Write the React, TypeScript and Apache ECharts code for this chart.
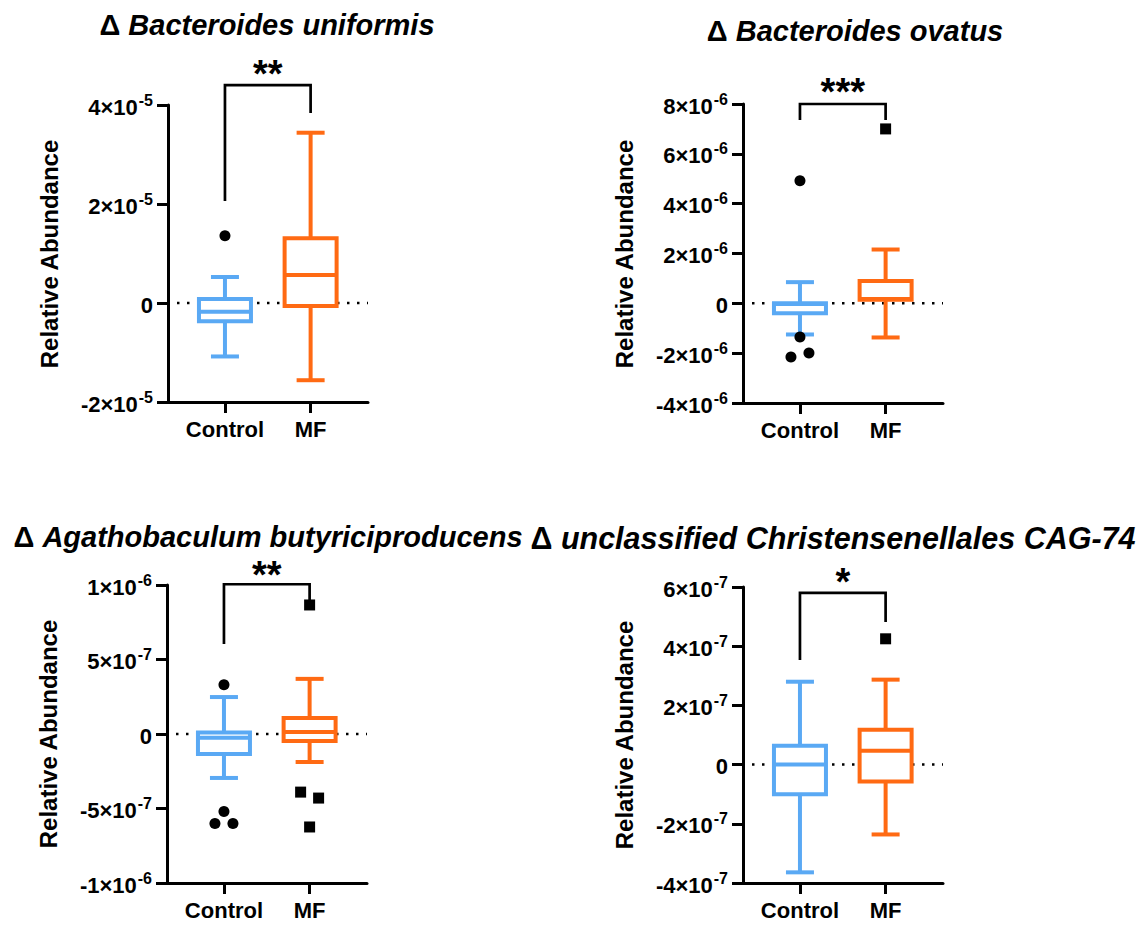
import React, { useEffect, useRef } from "react";
import * as echarts from "echarts";

const FONT = "'Liberation Sans', Arial, sans-serif";
const BLUE = "#5AA9F4";
const ORANGE = "#FF6A13";

const categories = ["Control", "MF"];
const titles = [
  "Bacteroides uniformis",
  "Bacteroides ovatus",
  "Agathobaculum butyriciproducens",
  "unclassified Christensenellales CAG-74",
];
const stars = ["**", "***", "**", "*"];

// y ticks & labels
const p1Ticks = [-2e-5, 0, 2e-5, 4e-5];
const p1Labels = ["-2×10^-5", "0", "2×10^-5", "4×10^-5"];
const p2Ticks = [-4e-6, -2e-6, 0, 2e-6, 4e-6, 6e-6, 8e-6];
const p2Labels = ["-4×10^-6", "-2×10^-6", "0", "2×10^-6", "4×10^-6", "6×10^-6", "8×10^-6"];
const p3Ticks = [-1e-6, -5e-7, 0, 5e-7, 1e-6];
const p3Labels = ["-1×10^-6", "-5×10^-7", "0", "5×10^-7", "1×10^-6"];
const p4Ticks = [-4e-7, -2e-7, 0, 2e-7, 4e-7, 6e-7];
const p4Labels = ["-4×10^-7", "-2×10^-7", "0", "2×10^-7", "4×10^-7", "6×10^-7"];

// box stats: [min, q1, median, q3, max]
const p1Control = [-1.08e-5, -3.7e-6, -1.75e-6, 0.8e-6, 5.25e-6];
const p1MF = [-1.56e-5, -0.6e-6, 5.66e-6, 1.31e-5, 3.44e-5];
const p2Control = [-1.25e-6, -0.4e-6, -0.03e-6, 0.0, 0.85e-6];
const p2MF = [-1.37e-6, 0.14e-6, 0.17e-6, 0.9e-6, 2.16e-6];
const p3Control = [-0.295e-6, -0.134e-6, -0.025e-6, 0.01e-6, 0.248e-6];
const p3MF = [-0.188e-6, -0.047e-6, 0.013e-6, 0.107e-6, 0.37e-6];
const p4Control = [-3.64e-7, -1.0e-7, 0, 0.64e-7, 2.8e-7];
const p4MF = [-2.36e-7, -0.57e-7, 0.47e-7, 1.18e-7, 2.87e-7];

// outliers: [x position (group 1 or 2, small jitter), value]
const p1ControlOut = [[1, 1.36e-5]];
const p1MFOut: number[][] = [];
const p2ControlOut = [[1, 4.92e-6], [1, -1.35e-6], [0.895, -2.15e-6], [1.105, -1.99e-6]];
const p2MFOut = [[2, 7.0e-6]];
const p3ControlOut = [[1, 0.33e-6], [1, -0.52e-6], [0.895, -0.6e-6], [1.105, -0.6e-6]];
const p3MFOut = [[2, 0.866e-6], [1.895, -0.39e-6], [2.105, -0.43e-6], [2, -0.624e-6]];
const p4ControlOut: number[][] = [];
const p4MFOut = [[2, 4.25e-7]];

// significance brackets: [left leg bottom, bracket top, right leg bottom, star level]
const p1Bracket = [2.06e-5, 4.4e-5, 3.84e-5, 4.62e-5];
const p2Bracket = [7.36e-6, 8.0e-6, 7.36e-6, 8.5e-6];
const p3Bracket = [0.604e-6, 1.005e-6, 0.832e-6, 1.07e-6];
const p4Bracket = [3.53e-7, 5.8e-7, 4.82e-7, 6.17e-7];

const panels = [
  { ticks: p1Ticks, labels: p1Labels, control: p1Control, mf: p1MF, cOut: p1ControlOut, mOut: p1MFOut, bracket: p1Bracket },
  { ticks: p2Ticks, labels: p2Labels, control: p2Control, mf: p2MF, cOut: p2ControlOut, mOut: p2MFOut, bracket: p2Bracket },
  { ticks: p3Ticks, labels: p3Labels, control: p3Control, mf: p3MF, cOut: p3ControlOut, mOut: p3MFOut, bracket: p3Bracket },
  { ticks: p4Ticks, labels: p4Labels, control: p4Control, mf: p4MF, cOut: p4ControlOut, mOut: p4MFOut, bracket: p4Bracket },
];

// layout (pixels)
const grids = [
  { left: 168, top: 105, width: 200, height: 297 },
  { left: 743, top: 104, width: 200, height: 299 },
  { left: 167, top: 585, width: 200, height: 298 },
  { left: 743, top: 587, width: 200, height: 296 },
];
const titlePos = [
  [267, 25],
  [855, 31],
  [268, 537],
  [833, 538],
];
const titleSize = [29, 29, 29, 30.5];
const namePos = [
  [49, 254],
  [624, 254],
  [48, 734],
  [624, 735],
];

const X_MIN = 0.335;
const X_MAX = 2.67;

function fmtLabel(labels: string[], ticks: number[], v: number) {
  let best = 0;
  for (let i = 0; i < ticks.length; i++) {
    if (Math.abs(ticks[i] - v) < Math.abs(ticks[best] - v)) best = i;
  }
  const s = labels[best];
  const parts = s.split("^");
  if (parts.length === 1) return `{m|${parts[0]}}`;
  return `{m|${parts[0]}}{e|${parts[1]}}`;
}

function makeBox(idx: number, xi: number, color: string, stats: number[]) {
  return {
    type: "custom",
    xAxisIndex: idx,
    yAxisIndex: idx,
    z: 3,
    silent: true,
    data: [[xi, ...stats]],
    encode: { x: 0, y: [1, 2, 3, 4, 5] },
    renderItem: (params: any, api: any) => {
      const x = api.value(0);
      const pt = (d: number) => api.coord([x, api.value(d)]);
      const pMin = pt(1);
      const pQ1 = pt(2);
      const pMed = pt(3);
      const pQ3 = pt(4);
      const pMax = pt(5);
      const cx = pMin[0];
      const hw = 26;
      const cw = 14;
      const st = { stroke: color, lineWidth: 4, fill: "none" };
      return {
        type: "group",
        children: [
          { type: "line", shape: { x1: cx, y1: pMax[1], x2: cx, y2: pQ3[1] }, style: st },
          { type: "line", shape: { x1: cx, y1: pQ1[1], x2: cx, y2: pMin[1] }, style: st },
          { type: "line", shape: { x1: cx - cw, y1: pMax[1], x2: cx + cw, y2: pMax[1] }, style: st },
          { type: "line", shape: { x1: cx - cw, y1: pMin[1], x2: cx + cw, y2: pMin[1] }, style: st },
          {
            type: "rect",
            shape: { x: cx - hw, y: pQ3[1], width: 2 * hw, height: pQ1[1] - pQ3[1] },
            style: { stroke: color, lineWidth: 4, fill: "#fff" },
          },
          { type: "line", shape: { x1: cx - hw, y1: pMed[1], x2: cx + hw, y2: pMed[1] }, style: st },
        ],
      };
    },
  };
}

export default function App() {
  const ref = useRef<HTMLDivElement>(null);
  useEffect(() => {
    if (!ref.current) return;
    const chart = echarts.init(ref.current, undefined, { renderer: "svg" });

    const grid = grids.map((g) => ({ ...g, containLabel: false }));
    const xAxis = panels.map((p, i) => ({
      type: "value",
      gridIndex: i,
      min: X_MIN,
      max: X_MAX,
      splitLine: { show: false },
      axisLine: { show: true, onZero: false, lineStyle: { color: "#000", width: 3 } },
      axisTick: { show: true, customValues: [1, 2], length: 11, lineStyle: { color: "#000", width: 3 } },
      axisLabel: {
        show: true,
        customValues: [1, 2],
        margin: 16,
        formatter: (v: number) => categories[Math.round(v) - 1] || "",
        color: "#000",
        fontFamily: FONT,
        fontWeight: "bold",
        fontSize: 22,
      },
    }));
    const yAxis = panels.map((p, i) => {
      const min = p.ticks[0];
      const max = p.ticks[p.ticks.length - 1];
      const interval = p.ticks.find((t) => t > 0) as number;
      return {
        type: "value",
        gridIndex: i,
        min,
        max,
        interval,
        splitLine: { show: false },
        axisLine: { show: true, onZero: false, lineStyle: { color: "#000", width: 3 } },
        axisTick: { show: true, length: 11, lineStyle: { color: "#000", width: 3 } },
        axisLabel: {
          show: true,
          margin: 15,
          formatter: (v: number) => fmtLabel(p.labels, p.ticks, v),
          rich: {
            m: { fontFamily: FONT, fontWeight: "bold", fontSize: 22, color: "#000", lineHeight: 26, verticalAlign: "bottom" },
            e: { fontFamily: FONT, fontWeight: "bold", fontSize: 16, color: "#000", lineHeight: 26, verticalAlign: "top", padding: [0, 0, 0, 1] },
          },
        },
      };
    });

    const series: any[] = [];
    panels.forEach((p, i) => {
      series.push({
        type: "line",
        xAxisIndex: i,
        yAxisIndex: i,
        silent: true,
        symbol: "none",
        z: 1,
        data: [[0.44, 0], [X_MAX, 0]],
        lineStyle: { color: "#000", width: 2.5, type: [2.5, 7.5] },
      });
      series.push(makeBox(i, 1, BLUE, p.control));
      series.push(makeBox(i, 2, ORANGE, p.mf));
      series.push({
        type: "scatter",
        xAxisIndex: i,
        yAxisIndex: i,
        symbol: "circle",
        symbolSize: 11,
        z: 4,
        clip: false,
        itemStyle: { color: "#000", opacity: 1 },
        data: p.cOut,
      });
      series.push({
        type: "scatter",
        xAxisIndex: i,
        yAxisIndex: i,
        symbol: "rect",
        symbolSize: 11,
        z: 4,
        clip: false,
        itemStyle: { color: "#000", opacity: 1 },
        data: p.mOut,
      });
      const b = p.bracket;
      series.push({
        type: "line",
        xAxisIndex: i,
        yAxisIndex: i,
        silent: true,
        symbol: "none",
        clip: false,
        z: 5,
        data: [[1, b[0]], [1, b[1]], [2, b[1]], [2, b[2]]],
        lineStyle: { color: "#000", width: 2.7, join: "miter" },
      });
      series.push({
        type: "scatter",
        xAxisIndex: i,
        yAxisIndex: i,
        silent: true,
        clip: false,
        symbolSize: 1,
        itemStyle: { color: "rgba(0,0,0,0)", opacity: 1 },
        data: [[1.5, b[3]]],
        label: {
          show: true,
          position: "inside",
          formatter: () => stars[i],
          fontFamily: FONT,
          fontWeight: "bold",
          fontSize: 38,
          color: "#000",
          textBorderWidth: 0,
          opacity: 1,
        },
      });
    });

    const graphic: any[] = [];
    titles.forEach((t, i) => {
      graphic.push({
        type: "text",
        x: titlePos[i][0],
        y: titlePos[i][1],
        style: {
          text: `{d|Δ }{i|${t}}`,
          align: "center",
          verticalAlign: "middle",
          rich: {
            d: { fontFamily: FONT, fontWeight: "bold", fontSize: titleSize[i], fill: "#000" },
            i: { fontFamily: FONT, fontWeight: "bold", fontStyle: "italic", fontSize: titleSize[i], fill: "#000" },
          },
        },
      });
      graphic.push({
        type: "text",
        x: namePos[i][0],
        y: namePos[i][1],
        rotation: Math.PI / 2,
        style: {
          text: "Relative Abundance",
          align: "center",
          verticalAlign: "middle",
          fontFamily: FONT,
          fontWeight: "bold",
          fontSize: 24,
          fill: "#000",
        },
      });
    });

    chart.setOption({
      animation: false,
      backgroundColor: "#fff",
      grid,
      xAxis,
      yAxis,
      series,
      graphic,
    });
    return () => chart.dispose();
  }, []);
  return (
    <div
      ref={ref}
      style={{ position: "absolute", left: 0, top: 0, width: 1142, height: 929 }}
    />
  );
}
